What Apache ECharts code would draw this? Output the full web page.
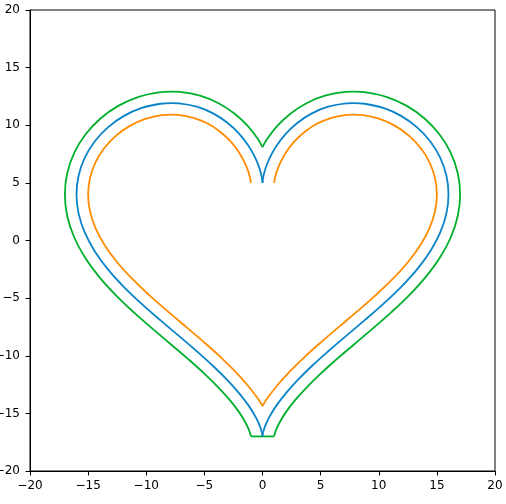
<!DOCTYPE html>
<html>
<head>
<meta charset="utf-8">
<script src="https://cdn.jsdelivr.net/npm/echarts@6/dist/echarts.min.js"></script>
<style>
html,body{margin:0;padding:0;background:#fff;}
#chart{width:506px;height:504px;}
</style>
</head>
<body>
<div id="chart"></div>
<script>
// Axis ticks
var xTicks = [-20, -15, -10, -5, 0, 5, 10, 15, 20];
var yTicks = [-20, -15, -10, -5, 0, 5, 10, 15, 20];

// Blue (middle) curve, right half, from top cusp to bottom tip
var blueRight = [
  [0, 5], [0.0106, 5.1549], [0.0838, 5.606], [0.2774, 6.3127], [0.6401, 7.2121],
  [1.2077, 8.2241], [2.0, 9.2584], [3.0193, 10.2225], [4.2494, 11.03], [5.6569, 11.6067],
  [7.1924, 11.8963], [7.8292, 11.9232], [8.7945, 11.8645], [10.3923, 11.5], [11.9111, 10.8135], [13.2762, 9.8349],
  [14.4197, 8.609], [15.2819, 7.1899], [15.8178, 5.6351], [16, 4], [15.8178, 2.3336],
  [15.2819, 0.675], [14.4197, -0.9487], [13.2762, -2.5218], [11.9111, -4.0383], [10.3923, -5.5],
  [8.7945, -6.9123], [7.1924, -8.2804], [5.6569, -9.6067], [4.2494, -10.8871], [3.0193, -12.1107],
  [2.0, -13.2584], [1.2077, -14.3047], [0.6401, -15.2198], [0.2774, -15.973], [0.0838, -16.535],
  [0.0106, -16.8824], [0, -17]
];
var blueLeft = [
  [0, 5], [-0.0106, 5.1549], [-0.0838, 5.606], [-0.2774, 6.3127], [-0.6401, 7.2121],
  [-1.2077, 8.2241], [-2.0, 9.2584], [-3.0193, 10.2225], [-4.2494, 11.03], [-5.6569, 11.6067],
  [-7.1924, 11.8963], [-7.8292, 11.9232], [-8.7945, 11.8645], [-10.3923, 11.5], [-11.9111, 10.8135], [-13.2762, 9.8349],
  [-14.4197, 8.609], [-15.2819, 7.1899], [-15.8178, 5.6351], [-16, 4], [-15.8178, 2.3336],
  [-15.2819, 0.675], [-14.4197, -0.9487], [-13.2762, -2.5218], [-11.9111, -4.0383], [-10.3923, -5.5],
  [-8.7945, -6.9123], [-7.1924, -8.2804], [-5.6569, -9.6067], [-4.2494, -10.8871], [-3.0193, -12.1107],
  [-2.0, -13.2584], [-1.2077, -14.3047], [-0.6401, -15.2198], [-0.2774, -15.973], [-0.0838, -16.535],
  [-0.0106, -16.8824], [0, -17]
];

// Orange (inner) curve
var orangeRight = [
  [1, 5], [1.005, 5.052], [1.062, 5.399], [1.226, 5.997], [1.544, 6.783],
  [2.045, 7.677], [2.746, 8.592], [3.642, 9.44], [4.718, 10.147], [5.942, 10.648],
  [7.276, 10.9], [7.83, 10.923], [8.673, 10.872], [10.073, 10.552], [11.411, 9.947], [12.616, 9.083],
  [13.623, 8.004], [14.377, 6.764], [14.842, 5.415], [15, 4], [14.841, 2.546],
  [14.363, 1.069], [13.574, -0.414], [12.503, -1.888], [11.196, -3.34], [9.718, -4.762],
  [8.142, -6.155], [6.544, -7.52], [4.996, -8.856], [3.562, -10.161], [2.294, -11.422],
  [1.228, -12.623], [0.384, -13.738], [0, -14.357]
];
var orangeLeft = [
  [-1, 5], [-1.005, 5.052], [-1.062, 5.399], [-1.226, 5.997], [-1.544, 6.783],
  [-2.045, 7.677], [-2.746, 8.592], [-3.642, 9.44], [-4.718, 10.147], [-5.942, 10.648],
  [-7.276, 10.9], [-7.83, 10.923], [-8.673, 10.872], [-10.073, 10.552], [-11.411, 9.947], [-12.616, 9.083],
  [-13.623, 8.004], [-14.377, 6.764], [-14.842, 5.415], [-15, 4], [-14.841, 2.546],
  [-14.363, 1.069], [-13.574, -0.414], [-12.503, -1.888], [-11.196, -3.34], [-9.718, -4.762],
  [-8.142, -6.155], [-6.544, -7.52], [-4.996, -8.856], [-3.562, -10.161], [-2.294, -11.422],
  [-1.228, -12.623], [-0.384, -13.738], [0, -14.357]
];

// Green (outer) curve
var greenRight = [
  [0, 8.11], [0.37, 8.771], [1.255, 9.925], [2.396, 11.005], [3.781, 11.913],
  [5.372, 12.565], [7.109, 12.893], [7.828, 12.923], [8.917, 12.857], [10.712, 12.448], [12.411, 11.68],
  [13.936, 10.586], [15.216, 9.214], [16.186, 7.616], [16.793, 5.856], [17, 4],
  [16.795, 2.121], [16.201, 0.281], [15.265, -1.483], [14.05, -3.155], [12.626, -4.737],
  [11.067, -6.238], [9.447, -7.67], [7.841, -9.041], [6.318, -10.357], [4.937, -11.613],
  [3.745, -12.799], [2.772, -13.894], [2.032, -14.871], [1.517, -15.701], [1.203, -16.352],
  [1.049, -16.797], [1.002, -16.99], [1, -17]
];
var greenLeft = [
  [0, 8.11], [-0.37, 8.771], [-1.255, 9.925], [-2.396, 11.005], [-3.781, 11.913],
  [-5.372, 12.565], [-7.109, 12.893], [-7.828, 12.923], [-8.917, 12.857], [-10.712, 12.448], [-12.411, 11.68],
  [-13.936, 10.586], [-15.216, 9.214], [-16.186, 7.616], [-16.793, 5.856], [-17, 4],
  [-16.795, 2.121], [-16.201, 0.281], [-15.265, -1.483], [-14.05, -3.155], [-12.626, -4.737],
  [-11.067, -6.238], [-9.447, -7.67], [-7.841, -9.041], [-6.318, -10.357], [-4.937, -11.613],
  [-3.745, -12.799], [-2.772, -13.894], [-2.032, -14.871], [-1.517, -15.701], [-1.203, -16.352],
  [-1.049, -16.797], [-1.002, -16.99], [-1, -17]
];
var greenBottom = [[-1, -17], [1, -17]];

var BLUE = '#0a84c8';
var ORANGE = '#ff8c00';
var GREEN = '#00b02c';

function fmt(v) { return String(v).replace('-', '\u2212'); }

function line(data, color, smooth) {
  return {
    type: 'line', data: data, smooth: smooth, showSymbol: false, symbol: 'none',
    lineStyle: { color: color, width: 1.8 }, silent: true, clip: true
  };
}

var chart = echarts.init(document.getElementById('chart'), null, { renderer: 'canvas' });
function axis(ticks, margin) {
  return {
    type: 'value', min: ticks[0], max: ticks[ticks.length - 1], interval: 5,
    axisLine: { show: true, onZero: false, lineStyle: { color: '#000', width: 1 } },
    axisTick: { show: true, inside: false, length: 4.5, lineStyle: { color: '#000', width: 1 } },
    splitLine: { show: false },
    axisLabel: { color: '#000', fontFamily: 'DejaVu Sans', fontSize: 12, margin: margin, formatter: fmt }
  };
}
chart.setOption({
  animation: false,
  backgroundColor: '#fff',
  grid: {
    left: 30, top: 10, width: 465, height: 461,
    containLabel: false, outerBoundsMode: 'none',
    show: true, borderColor: '#000', borderWidth: 1, backgroundColor: 'transparent'
  },
  xAxis: axis(xTicks, 9),
  yAxis: axis(yTicks, 10),
  series: [
    line(greenRight, GREEN, 0.4),
    line(greenLeft, GREEN, 0.4),
    line(greenBottom, GREEN, false),
    line(blueRight, BLUE, 0.4),
    line(blueLeft, BLUE, 0.4),
    line(orangeRight, ORANGE, 0.4),
    line(orangeLeft, ORANGE, 0.4)
  ]
});
</script>
</body>
</html>
